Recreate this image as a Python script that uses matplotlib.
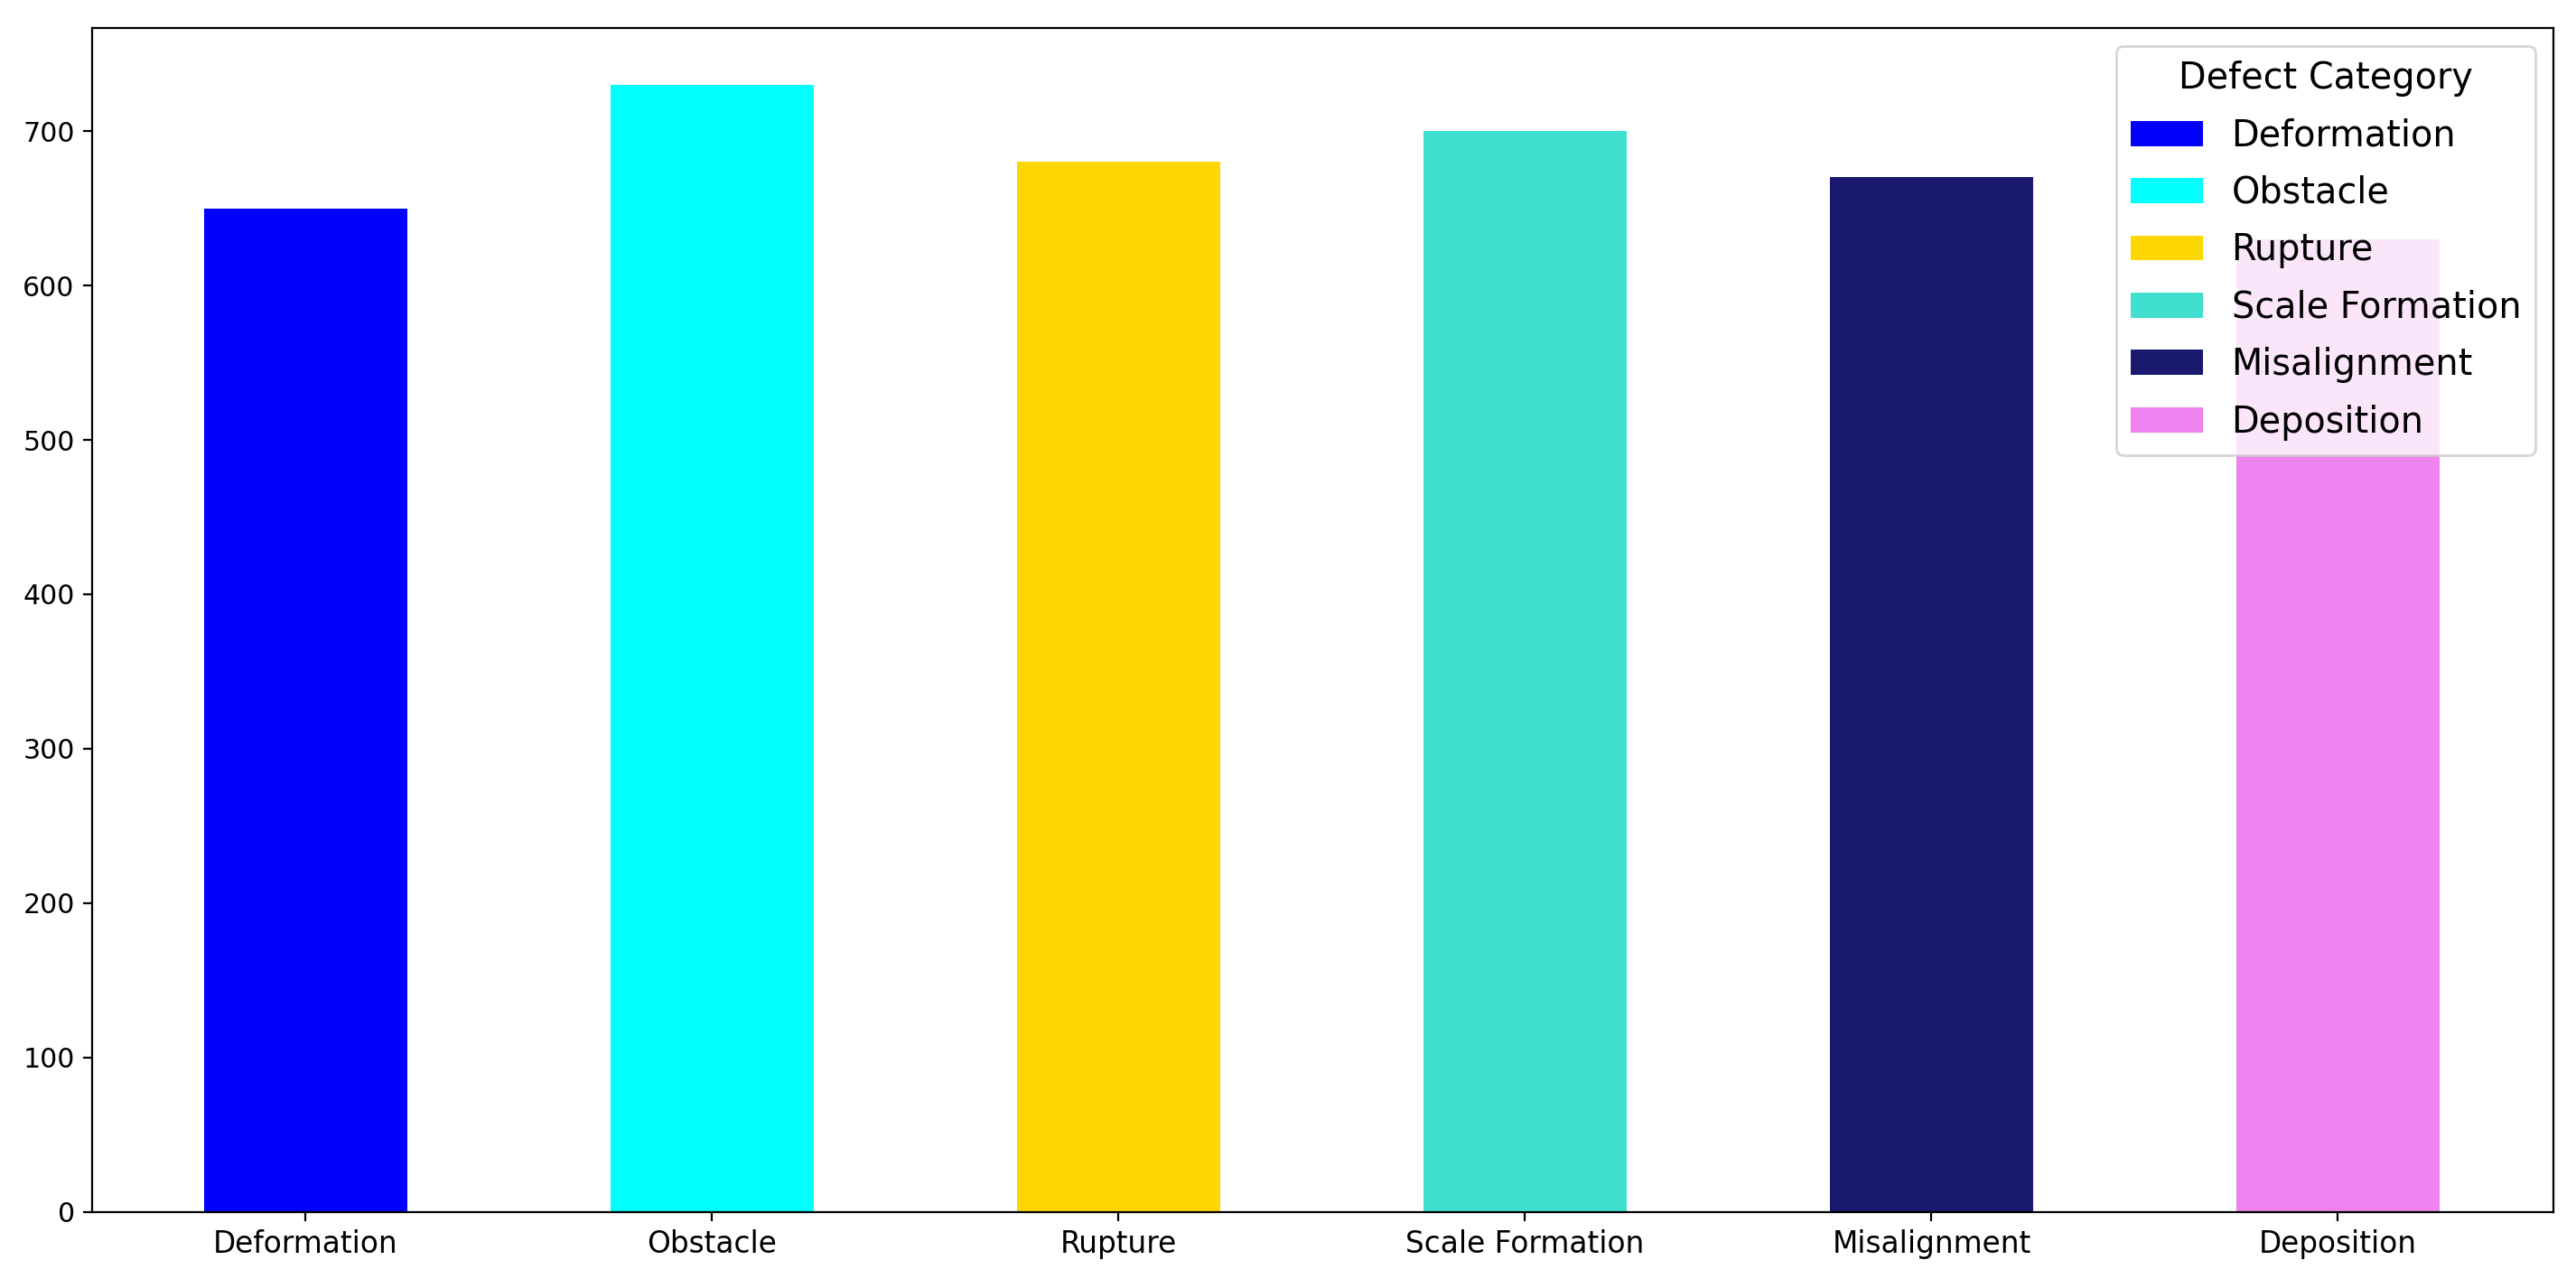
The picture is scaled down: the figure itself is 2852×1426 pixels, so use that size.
import matplotlib
matplotlib.use('Agg')
import matplotlib.pyplot as plt
import numpy as np

categories = ['Deformation', 'Obstacle', 'Rupture', 'Scale Formation', 'Misalignment', 'Deposition']
counts = [650, 730, 680, 700, 670, 630]
bar_colors = ['blue', 'cyan', 'gold', 'turquoise', 'midnightblue', 'violet']

fig, ax = plt.subplots(figsize=(14.26, 7.13), dpi=200)
x = np.arange(len(categories))

for i in range(len(categories)):
    ax.bar(x[i], counts[i], width=0.5, color=bar_colors[i], label=categories[i])

ax.set_xlim(-0.525, len(categories) - 0.47)
ax.set_xticks(x)
ax.set_xticklabels(categories, rotation=0, fontsize=11.8)
ax.tick_params(axis='y', labelsize=10.8)
ax.legend(title='Defect Category', loc='upper right', fontsize=14.3, title_fontsize=14.3,
          labelspacing=0.59)

plt.subplots_adjust(left=0.0358, right=0.9912, top=0.978, bottom=0.059)
plt.savefig('out.png')
